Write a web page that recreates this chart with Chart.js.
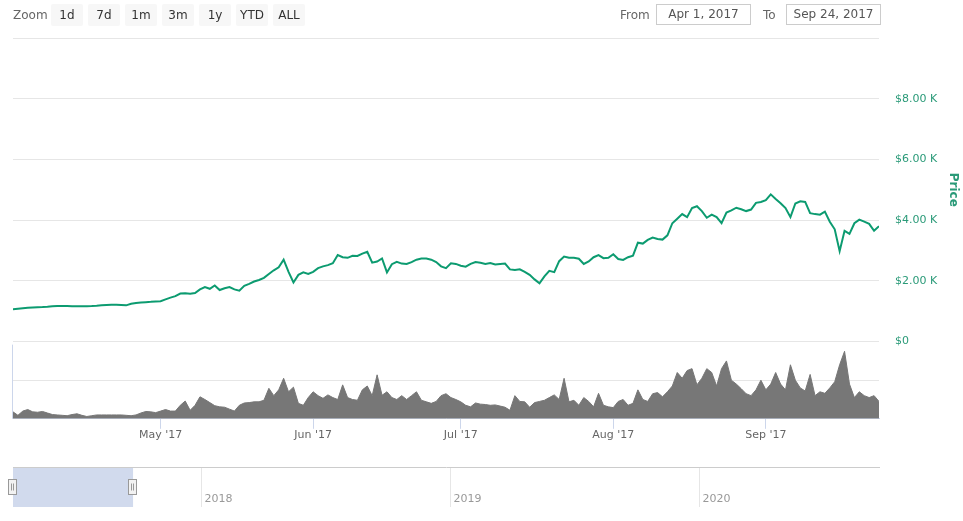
<!DOCTYPE html>
<html>
<head>
<meta charset="utf-8">
<script src="https://cdn.jsdelivr.net/npm/chart.js@4/dist/chart.umd.min.js"></script>
<style>
  html, body { margin:0; padding:0; background:#fff; }
  body { width:963px; height:521px; position:relative; overflow:hidden; font-family:"DejaVu Sans", sans-serif; }
  #main { position:absolute; left:0; top:0; width:963px; height:450px; }
  #nav { position:absolute; left:0; top:460px; width:963px; height:55px; }
  .lbl { position:absolute; font-size:12px; color:#666; line-height:22px; top:4px; }
  .btn { position:absolute; top:4px; width:32px; height:22px; background:#f7f7f7; border-radius:2px;
         font-size:12px; color:#333; text-align:center; line-height:22px; }
  .inp { position:absolute; top:4px; width:93px; height:19px; border:1px solid #ccc; font-size:12px;
         color:#555; text-align:center; line-height:19px; background:#fff; }
</style>
</head>
<body>
<div id="main"><canvas id="c1"></canvas></div>
<div id="nav"><canvas id="c2"></canvas></div>
<div id="toolbar"></div>
<script>
// ---- Data (day index 0 = Apr 1, 2017) ----
const startLabel = "Apr 1, 2017";
const endLabel = "Sep 24, 2017";
const zoomButtons = ["1d", "7d", "1m", "3m", "1y", "YTD", "ALL"];

const priceApr = [1063,1080,1100,1115,1125,1135,1140,1150,1165,1170,1172,1170,1168,1162,1165,1168,1172,1180,1195,1205,1218,1212,1205,1195,1245,1272,1285,1300,1310,1325];
const priceMay = [1330,1390,1450,1500,1584,1590,1580,1600,1720,1800,1740,1850,1700,1760,1800,1720,1680,1840,1900,1980,2030,2100,2230,2350,2450,2700,2300,1950,2200,2280,2230];
const priceJun = [2300,2420,2480,2520,2580,2850,2780,2760,2830,2820,2900,2960,2600,2640,2740,2280,2550,2630,2570,2560,2620,2700,2740,2740,2700,2620,2480,2420,2580,2560];
const priceJul = [2500,2470,2560,2620,2600,2560,2590,2540,2560,2570,2380,2360,2380,2300,2200,2050,1920,2150,2330,2290,2650,2800,2760,2760,2730,2560,2640,2780,2850,2750,2760];
const priceAug = [2880,2720,2690,2780,2830,3260,3230,3350,3430,3380,3360,3500,3900,4050,4200,4100,4400,4460,4300,4080,4180,4100,3900,4250,4320,4410,4360,4300,4350,4570,4600];
const priceSep = [4660,4850,4700,4560,4400,4100,4550,4620,4600,4230,4200,4180,4280,3950,3700,2980,3650,3550,3900,4020,3950,3880,3650,3800];

const volume = [0.18,0.09,0.2,0.24,0.18,0.17,0.19,0.15,0.11,0.1,
0.09,0.08,0.11,0.13,0.09,0.06,0.08,0.1,0.1,0.1,
0.1,0.1,0.1,0.09,0.08,0.1,0.15,0.19,0.18,0.16,
0.2,0.24,0.2,0.2,0.35,0.46,0.22,0.35,0.57,0.5,
0.42,0.34,0.31,0.3,0.25,0.2,0.35,0.41,0.42,0.44,
0.44,0.48,0.79,0.6,0.75,1.05,0.7,0.82,0.4,0.35,
0.55,0.7,0.6,0.53,0.62,0.55,0.5,0.88,0.55,0.5,
0.48,0.75,0.85,0.6,1.14,0.61,0.7,0.55,0.5,0.6,
0.5,0.6,0.7,0.48,0.44,0.4,0.45,0.6,0.65,0.55,
0.5,0.44,0.35,0.31,0.41,0.38,0.37,0.35,0.36,0.33,
0.3,0.22,0.6,0.45,0.44,0.3,0.42,0.45,0.48,0.55,
0.62,0.5,1.05,0.44,0.48,0.35,0.55,0.45,0.31,0.66,
0.35,0.31,0.29,0.45,0.5,0.35,0.4,0.75,0.5,0.45,
0.65,0.68,0.57,0.7,0.85,1.2,1.05,1.25,1.3,0.88,
1.05,1.3,1.2,0.85,1.3,1.5,1.0,0.9,0.78,0.65,
0.6,0.75,1.0,0.75,0.9,1.2,0.9,0.75,1.4,1.0,
0.8,0.72,1.15,0.6,0.7,0.66,0.8,0.96,1.4,1.75,
0.9,0.55,0.7,0.6,0.55,0.6,0.45];

const monthTicks = [30, 61, 91, 122, 153];
const monthLabels = ["May '17", "Jun '17", "Jul '17", "Aug '17", "Sep '17"];
const priceTicks = [0, 2000, 4000, 6000, 8000, 10000];
const priceTickLabels = ["$0", "$2.00 K", "$4.00 K", "$6.00 K", "$8.00 K", ""];

const navRange = [0, 1271];
const navYearTicks = [275, 640, 1005];
const navYearLabels = ["2018", "2019", "2020"];

// ---- Toolbar ----
const tb = document.getElementById('toolbar');
function addEl(cls, text, left) {
  const d = document.createElement('div');
  d.className = cls; d.textContent = text; d.style.left = left + 'px';
  tb.appendChild(d); return d;
}
addEl('lbl', 'Zoom', 13);
zoomButtons.forEach((b, i) => addEl('btn', b, 51 + i * 37));
addEl('lbl', 'From', 620);
addEl('inp', startLabel, 656);
addEl('lbl', 'To', 763);
addEl('inp', endLabel, 786);

// ---- Main chart ----
const prices = [].concat(priceApr, priceMay, priceJun, priceJul, priceAug, priceSep);
const green = '#0c9b70';
const labelGreen = '#2a9a78';
const lastDay = prices.length - 1;

const volBorder = {
  id: 'volBorder',
  afterDraw(chart) {
    const ys = chart.scales.yv, ca = chart.chartArea, ctx = chart.ctx;
    ctx.save();
    ctx.strokeStyle = '#ccd6eb'; ctx.lineWidth = 1;
    ctx.beginPath();
    ctx.moveTo(ca.left - 0.5, ys.top + 3); ctx.lineTo(ca.left - 0.5, ys.bottom);
    ctx.stroke();
    ctx.restore();
  }
};

new Chart(document.getElementById('c1'), {
  type: 'line',
  data: {
    datasets: [
      {
        label: 'Price',
        data: prices.map((v, i) => ({x: i, y: v})),
        yAxisID: 'y',
        borderColor: green, borderWidth: 2, pointRadius: 0, tension: 0, fill: false
      },
      {
        label: 'Volume',
        data: volume.map((v, i) => ({x: i, y: v})),
        yAxisID: 'yv',
        borderColor: '#777777', backgroundColor: '#777777', borderWidth: 1,
        pointRadius: 0, tension: 0, fill: 'origin'
      }
    ]
  },
  options: {
    responsive: true, maintainAspectRatio: false, animation: false,
    events: [],
    layout: { padding: { top: 38, left: 13, right: 0, bottom: 8 } },
    plugins: { legend: { display: false }, tooltip: { enabled: false } },
    scales: {
      x: {
        type: 'linear', min: 0, max: lastDay,
        afterBuildTicks(axis) { axis.ticks = monthTicks.map(v => ({value: v})); },
        ticks: {
          autoSkip: false, maxRotation: 0, padding: 0,
          color: '#666', font: { family: 'DejaVu Sans', size: 11 },
          callback(v) { const k = monthTicks.indexOf(v); return k >= 0 ? monthLabels[k] : ''; }
        },
        grid: { drawOnChartArea: false, drawTicks: true, tickLength: 10, color: '#ccd6eb' },
        border: { display: true, color: '#ccd6eb' }
      },
      y: {
        type: 'linear', position: 'right', stack: 'main', stackWeight: 303,
        min: 0, max: 10000,
        afterBuildTicks(axis) { axis.ticks = priceTicks.map(v => ({value: v})); },
        afterFit(scale) { scale.width = 84; },
        ticks: {
          padding: 16, color: labelGreen, font: { family: 'DejaVu Sans', size: 11 },
          callback(v) { const k = priceTicks.indexOf(v); return k >= 0 ? priceTickLabels[k] : ''; }
        },
        grid: { color: '#e6e6e6', drawTicks: false },
        border: { display: false },
        title: {
          display: true, text: 'Price', color: labelGreen,
          font: { family: 'DejaVu Sans', size: 12, weight: 'bold' },
          padding: { top: 3, bottom: 0 }
        }
      },
      yv: {
        type: 'linear', position: 'right', stack: 'main', stackWeight: 77,
        min: 0, max: 2,
        afterBuildTicks(axis) { axis.ticks = [{value: 0}, {value: 1}, {value: 2}]; },
        afterFit(scale) { scale.width = 84; },
        ticks: { display: false },
        grid: {
          drawTicks: false,
          color(ctx) { return ctx.tick && ctx.tick.value === 0 ? 'rgba(0,0,0,0)' : '#e6e6e6'; }
        },
        border: { display: false }
      }
    }
  },
  plugins: [volBorder]
});

// ---- Navigator ----
const navPlugin = {
  id: 'navPlugin',
  afterDraw(chart) {
    const xs = chart.scales.x, ca = chart.chartArea, ctx = chart.ctx;
    ctx.save();
    ctx.font = '11px "DejaVu Sans"';
    ctx.fillStyle = '#999';
    ctx.textBaseline = 'alphabetic';
    navYearTicks.forEach((v, i) => {
      const px = Math.round(xs.getPixelForValue(v)) + 0.5;
      ctx.strokeStyle = '#e6e6e6'; ctx.lineWidth = 1;
      ctx.beginPath(); ctx.moveTo(px, ca.top); ctx.lineTo(px, ca.bottom); ctx.stroke();
      ctx.fillText(navYearLabels[i], px + 3, ca.bottom - 5);
    });
    const x0 = xs.getPixelForValue(0), x1 = xs.getPixelForValue(lastDay);
    ctx.fillStyle = 'rgba(102,133,194,0.3)';
    ctx.fillRect(x0, ca.top, x1 - x0, ca.bottom - ca.top);
    ctx.strokeStyle = '#cccccc'; ctx.lineWidth = 1;
    ctx.beginPath(); ctx.moveTo(ca.left, ca.top + 0.5); ctx.lineTo(ca.right, ca.top + 0.5); ctx.stroke();
    const cy = (ca.top + ca.bottom) / 2;
    [x0, x1].forEach(hx => {
      const rx = Math.round(hx) - 4.5, ry = Math.round(cy - 8) + 0.5;
      ctx.fillStyle = '#f2f2f2'; ctx.strokeStyle = '#999'; ctx.lineWidth = 1;
      ctx.fillRect(rx, ry, 8, 15); ctx.strokeRect(rx, ry, 8, 15);
      ctx.beginPath();
      ctx.moveTo(rx + 3, ry + 4); ctx.lineTo(rx + 3, ry + 11);
      ctx.moveTo(rx + 5, ry + 4); ctx.lineTo(rx + 5, ry + 11);
      ctx.stroke();
    });
    ctx.restore();
  }
};

new Chart(document.getElementById('c2'), {
  type: 'line',
  data: { datasets: [] },
  options: {
    responsive: true, maintainAspectRatio: false, animation: false,
    events: [],
    layout: { padding: { top: 7, left: 13, right: 83, bottom: 8 } },
    plugins: { legend: { display: false }, tooltip: { enabled: false } },
    scales: {
      x: { type: 'linear', min: navRange[0], max: navRange[1], display: false },
      y: { type: 'linear', min: 0, max: 1, display: false }
    }
  },
  plugins: [navPlugin]
});
</script>
</body>
</html>
